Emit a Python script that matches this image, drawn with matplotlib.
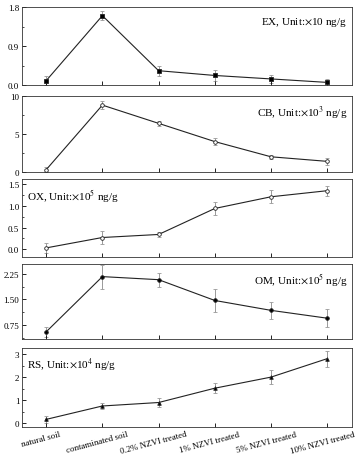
import numpy as np
import matplotlib.pyplot as plt
from matplotlib.ticker import AutoMinorLocator, FixedLocator
from matplotlib.transforms import ScaledTranslation

plt.rcParams['font.family'] = ['Liberation Serif', 'DejaVu Serif']
plt.rcParams['mathtext.fontset'] = 'stix'

categories = ['natural soil', 'contaminated soil', '0.2% NZVI treated',
              '1% NZVI treated', '5% NZVI treated', '10% NZVI treated']

ex_vals = [0.10, 1.60, 0.33, 0.22, 0.14, 0.06]
ex_err = [0.10, 0.10, 0.12, 0.12, 0.10, 0.08]
cb_vals = [0.3, 8.8, 6.4, 4.0, 2.0, 1.4]
cb_err = [0.3, 0.5, 0.3, 0.5, 0.3, 0.5]
ox_vals = [0.03, 0.27, 0.34, 0.94, 1.21, 1.35]
ox_err = [0.11, 0.14, 0.05, 0.16, 0.15, 0.12]
om_vals = [0.55, 2.17, 2.08, 1.47, 1.18, 0.95]
om_err = [0.15, 0.35, 0.20, 0.35, 0.25, 0.27]
rs_vals = [0.17, 0.75, 0.90, 1.52, 2.00, 2.80]
rs_err = [0.15, 0.15, 0.18, 0.22, 0.30, 0.35]

panels = [
    (ex_vals, ex_err, 's', 'k', r'EX, Unit:$\times$10 ng/g', 'right', (0, 1.8), [0, 0.9, 1.8], '{:.1f}'),
    (cb_vals, cb_err, 'o', 'white', r'CB, Unit:$\times$10$^3$ ng/g', 'right', (0, 10), [0, 5, 10], '{:.0f}'),
    (ox_vals, ox_err, 'o', 'white', r'OX, Unit:$\times$10$^5$ ng/g', 'left', (-0.18, 1.62), [0, 0.5, 1.0, 1.5], '{:.1f}'),
    (om_vals, om_err, 'o', 'k', r'OM, Unit:$\times$10$^5$ ng/g', 'right', (0.34, 2.54), [0.75, 1.5, 2.25], '{:.2f}'),
    (rs_vals, rs_err, '^', 'k', r'RS, Unit:$\times$10$^4$ ng/g', 'left', (-0.16, 3.26), [0, 1, 2, 3], '{:.0f}'),
]

# axes boxes in pixel rows (top, bottom)
rows = [(8, 86), (97, 173), (180, 258), (265, 340), (349, 428)]
W, H = 358, 456

fig = plt.figure(figsize=(W / 100, H / 100), dpi=100)
x = np.arange(len(categories))

for (vals, err, mk, fc, label, side, ylim, ticks, fmt), (top, bot) in zip(panels, rows):
    ax = fig.add_axes([22 / W, 1 - bot / H, 330 / W, (bot - top) / H])
    ax.errorbar(x, vals, yerr=err, fmt='none', ecolor='#999999',
                elinewidth=0.7, capsize=1.5, capthick=0.6, zorder=1)
    ax.plot(x, vals, color='#222222', lw=0.8, marker=mk, ms=2.6,
            mfc=fc, mec='#222222', mew=0.6, zorder=2)
    ax.set_xlim(-0.43, 5.44)
    ax.set_ylim(*ylim)
    ax.yaxis.set_major_locator(FixedLocator(ticks))
    ax.set_yticklabels([fmt.format(t) for t in ticks])
    ax.yaxis.set_minor_locator(AutoMinorLocator(2))
    ax.set_xticks(x)
    ax.tick_params(direction='in', labelsize=6.5, length=3, width=0.6, pad=2)
    ax.tick_params(which='minor', direction='in', length=1.5, width=0.5)
    for s in ax.spines.values():
        s.set_linewidth(0.6)
        s.set_color('#333333')
    if side == 'right':
        ax.text(0.985, 0.9, label, transform=ax.transAxes, ha='right', va='top', fontsize=8)
    else:
        ax.text(0.015, 0.9, label, transform=ax.transAxes, ha='left', va='top', fontsize=8)
    if top != rows[-1][0]:
        ax.set_xticklabels([])
    else:
        ax.set_xticklabels(categories, rotation=15, ha='center', fontsize=6.4)
        shift = ScaledTranslation(-5 / 100, 0, fig.dpi_scale_trans)
        for lab in ax.get_xticklabels():
            lab.set_transform(lab.get_transform() + shift)

fig.savefig('out.png', dpi=100)
